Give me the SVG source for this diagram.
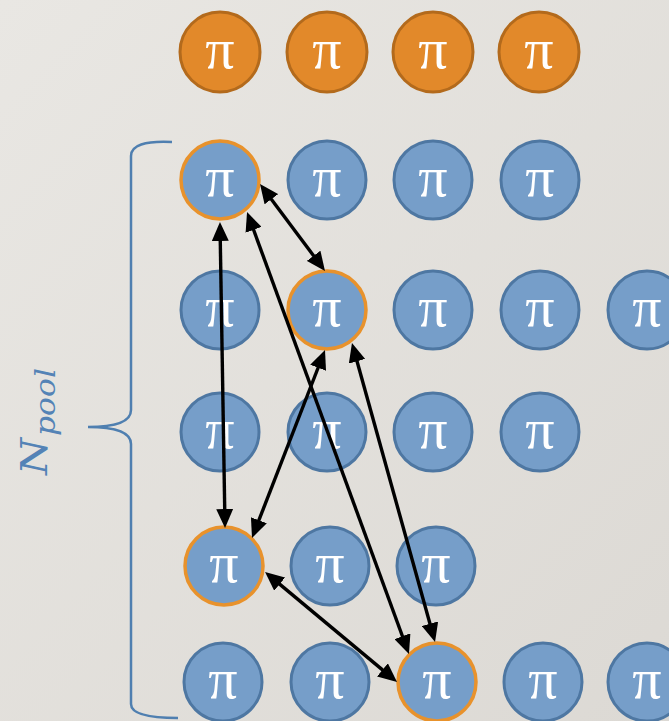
<svg xmlns="http://www.w3.org/2000/svg" width="669" height="721" viewBox="0 0 669 721">
  <defs>
    <linearGradient id="bg" x1="0" y1="0" x2="1" y2="1">
      <stop offset="0" stop-color="#e9e7e3"/>
      <stop offset="1" stop-color="#dcd9d4"/>
    </linearGradient>
    <marker id="head" viewBox="0 0 19 17" refX="11" refY="8.5" markerWidth="19" markerHeight="17" markerUnits="userSpaceOnUse" orient="auto-start-reverse">
      <path d="M0,0 L19,8.5 L0,17 z" fill="#000"/>
    </marker>
  </defs>
  <style>
    .orange { fill: #e2892a; stroke: #b36a1c; stroke-width: 3; }
    .blue { fill: #769ec9; stroke: #4e77a2; stroke-width: 3; }
    .picked { fill: #769ec9; stroke: #e8922c; stroke-width: 3.5; }
    .pi { font-family: "Liberation Serif", "DejaVu Serif", serif; font-size: 58px; fill: #ffffff; text-anchor: middle; }
    .link { stroke: #000; stroke-width: 3.4; fill: none; marker-start: url(#head); marker-end: url(#head); }
    .brace { stroke: #4f7fb0; stroke-width: 2.5; fill: none; }
    .label { font-family: "DejaVu Serif", "Liberation Serif", serif; font-style: italic; fill: #5483b6; }
  </style>

  <rect width="669" height="721" fill="url(#bg)"/>

  <!-- orange row -->
  <g id="top-row">
    <g id="o1"><circle class="orange" cx="220" cy="52" r="40"/><text class="pi" x="220" y="68">π</text></g>
    <g id="o2"><circle class="orange" cx="327" cy="52" r="40"/><text class="pi" x="327" y="68">π</text></g>
    <g id="o3"><circle class="orange" cx="433" cy="52" r="40"/><text class="pi" x="433" y="68">π</text></g>
    <g id="o4"><circle class="orange" cx="539" cy="52" r="40"/><text class="pi" x="539" y="68">π</text></g>
  </g>

  <!-- pool rows -->
  <g id="r1c1"><circle class="picked" cx="220" cy="180" r="39"/><text class="pi" x="220" y="196">π</text></g>
  <g id="r1c2"><circle class="blue" cx="327" cy="180" r="39"/><text class="pi" x="327" y="196">π</text></g>
  <g id="r1c3"><circle class="blue" cx="433" cy="180" r="39"/><text class="pi" x="433" y="196">π</text></g>
  <g id="r1c4"><circle class="blue" cx="540" cy="180" r="39"/><text class="pi" x="540" y="196">π</text></g>

  <g id="r2c1"><circle class="blue" cx="220" cy="310" r="39"/><text class="pi" x="220" y="326">π</text></g>
  <g id="r2c2"><circle class="picked" cx="327" cy="310" r="39"/><text class="pi" x="327" y="326">π</text></g>
  <g id="r2c3"><circle class="blue" cx="433" cy="310" r="39"/><text class="pi" x="433" y="326">π</text></g>
  <g id="r2c4"><circle class="blue" cx="540" cy="310" r="39"/><text class="pi" x="540" y="326">π</text></g>
  <g id="r2c5"><circle class="blue" cx="647" cy="310" r="39"/><text class="pi" x="647" y="326">π</text></g>

  <g id="r3c1"><circle class="blue" cx="220" cy="432" r="39"/><text class="pi" x="220" y="448">π</text></g>
  <g id="r3c2"><circle class="blue" cx="327" cy="432" r="39"/><text class="pi" x="327" y="448">π</text></g>
  <g id="r3c3"><circle class="blue" cx="433" cy="432" r="39"/><text class="pi" x="433" y="448">π</text></g>
  <g id="r3c4"><circle class="blue" cx="540" cy="432" r="39"/><text class="pi" x="540" y="448">π</text></g>

  <g id="r4c1"><circle class="picked" cx="224" cy="566" r="39"/><text class="pi" x="224" y="582">π</text></g>
  <g id="r4c2"><circle class="blue" cx="330" cy="566" r="39"/><text class="pi" x="330" y="582">π</text></g>
  <g id="r4c3"><circle class="blue" cx="436" cy="566" r="39"/><text class="pi" x="436" y="582">π</text></g>

  <g id="r5c1"><circle class="blue" cx="223" cy="682" r="39"/><text class="pi" x="223" y="698">π</text></g>
  <g id="r5c2"><circle class="blue" cx="330" cy="682" r="39"/><text class="pi" x="330" y="698">π</text></g>
  <g id="r5c3"><circle class="picked" cx="437" cy="682" r="39"/><text class="pi" x="437" y="698">π</text></g>
  <g id="r5c4"><circle class="blue" cx="543" cy="682" r="39"/><text class="pi" x="543" y="698">π</text></g>
  <g id="r5c5"><circle class="blue" cx="647" cy="682" r="39"/><text class="pi" x="647" y="698">π</text></g>

  <!-- two-way links between the highlighted nodes -->
  <g id="connectors">
    <line class="link" x1="220.1" y1="230" x2="224.9" y2="520"/>
    <line class="link" x1="264.8" y1="190.4" x2="320.2" y2="264.6"/>
    <line class="link" x1="249.8" y1="219.5" x2="406.2" y2="646.5"/>
    <line class="link" x1="322.1" y1="357.5" x2="254.9" y2="530.5"/>
    <line class="link" x1="354.1" y1="350.7" x2="432.9" y2="634.3"/>
    <line class="link" x1="271.2" y1="577.1" x2="390.9" y2="676.9"/>
  </g>

  <!-- curly brace spanning the pool -->
  <g id="brace">
    <path class="brace" d="M172,142 Q131,140 131,156 L131,410 Q131,427 88,427 Q131,427 131,444 L131,704 Q131,718 178,718"/>
  </g>

  <g id="label" transform="translate(47,475) rotate(-90)">
    <text class="label" x="0" y="0" font-size="38" textLength="37" lengthAdjust="spacingAndGlyphs">N</text>
    <text class="label" x="39" y="8" font-size="28" textLength="68" lengthAdjust="spacingAndGlyphs">pool</text>
  </g>
</svg>
